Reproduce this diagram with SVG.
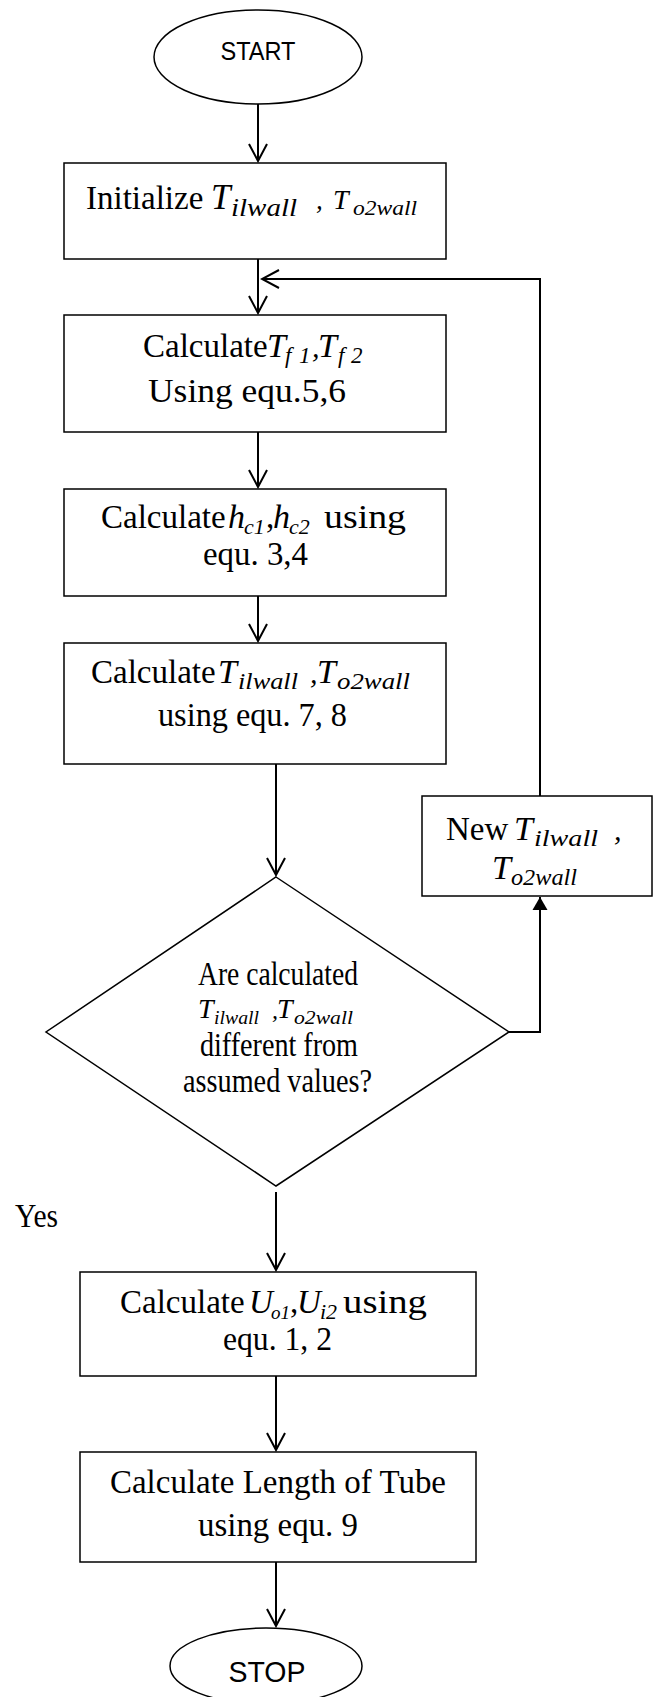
<svg xmlns="http://www.w3.org/2000/svg" width="654" height="1697" viewBox="0 0 654 1697">
<style>
.shape{fill:#fff;stroke:#000;stroke-width:1.5}
.conn{fill:none;stroke:#000;stroke-width:2}
.t{font-family:"Liberation Serif","Times New Roman",serif;font-size:33px;fill:#000}
.i{font-family:"Liberation Serif","Times New Roman",serif;font-style:italic;fill:#000}
.s{font-family:"Liberation Sans",Arial,sans-serif;fill:#000}
</style>
<defs>
<marker id="open" viewBox="-20 -11 22 22" refX="0" refY="0" markerWidth="22" markerHeight="22" markerUnits="userSpaceOnUse" orient="auto">
<path d="M-17,-9 L0,0 L-17,9" fill="none" stroke="#000" stroke-width="2"/>
</marker>
<marker id="solid" viewBox="-15 -9 16 18" refX="0" refY="0" markerWidth="16" markerHeight="18" markerUnits="userSpaceOnUse" orient="auto">
<path d="M-13,-7.5 L0,0 L-13,7.5 Z" fill="#000"/>
</marker>
</defs>
<rect width="654" height="1697" fill="#fff"/>

<g id="connectors">
<line class="conn" x1="258" y1="104" x2="258" y2="161" marker-end="url(#open)"/>
<line class="conn" x1="258" y1="259" x2="258" y2="313" marker-end="url(#open)"/>
<polyline class="conn" points="540,796 540,279 262,279" marker-end="url(#open)"/>
<line class="conn" x1="258" y1="432" x2="258" y2="487" marker-end="url(#open)"/>
<line class="conn" x1="258" y1="596" x2="258" y2="641" marker-end="url(#open)"/>
<line class="conn" x1="276" y1="764" x2="276" y2="875" marker-end="url(#open)"/>
<polyline class="conn" points="509,1032 540,1032 540,897" marker-end="url(#solid)"/>
<line class="conn" x1="276" y1="1192" x2="276" y2="1270" marker-end="url(#open)"/>
<line class="conn" x1="276" y1="1376" x2="276" y2="1450" marker-end="url(#open)"/>
<line class="conn" x1="276" y1="1562" x2="276" y2="1626" marker-end="url(#open)"/>
</g>

<g id="start">
<ellipse class="shape" cx="258" cy="57" rx="104" ry="47"/>
<text class="s" x="258" y="60" font-size="25" text-anchor="middle" textLength="75" lengthAdjust="spacingAndGlyphs">START</text>
</g>

<g id="init">
<rect class="shape" x="64" y="163" width="382" height="96"/>
<text class="t" x="86" y="209" font-size="30">Initialize</text>
<text class="i" x="211" y="209" font-size="35">T</text>
<text class="i" x="231" y="216" font-size="26" textLength="66" lengthAdjust="spacingAndGlyphs">ilwall</text>
<text class="i" x="316" y="209" font-size="27">,</text>
<text class="i" x="333" y="209" font-size="28">T</text>
<text class="i" x="353" y="215" font-size="22" textLength="64" lengthAdjust="spacingAndGlyphs">o2wall</text>
</g>

<g id="calc-tf">
<rect class="shape" x="64" y="315" width="382" height="117"/>
<text class="t" x="143" y="357" font-size="31">Calculate</text>
<text class="i" x="267" y="357" font-size="34">T</text>
<text class="i" x="285" y="363" font-size="23">f</text>
<text class="i" x="299" y="363" font-size="23">1</text>
<text class="i" x="312" y="357" font-size="30">,</text>
<text class="i" x="318" y="357" font-size="34">T</text>
<text class="i" x="338" y="363" font-size="23">f</text>
<text class="i" x="351" y="363" font-size="23">2</text>
<text class="t" x="148" y="402" textLength="198" lengthAdjust="spacingAndGlyphs">Using equ.5,6</text>
</g>

<g id="calc-hc">
<rect class="shape" x="64" y="489" width="382" height="107"/>
<text class="t" x="101" y="528" font-size="31">Calculate</text>
<text class="i" x="228" y="528" font-size="34">h</text>
<text class="i" x="244" y="534" font-size="22">c1</text>
<text class="t" x="266" y="528">,</text>
<text class="i" x="273" y="528" font-size="34">h</text>
<text class="i" x="289" y="534" font-size="22">c2</text>
<text class="t" x="324" y="528" textLength="82" lengthAdjust="spacingAndGlyphs">using</text>
<text class="t" x="203" y="565" textLength="105" lengthAdjust="spacingAndGlyphs">equ. 3,4</text>
</g>

<g id="calc-twall">
<rect class="shape" x="64" y="643" width="382" height="121"/>
<text class="t" x="91" y="683" font-size="31">Calculate</text>
<text class="i" x="218" y="683" font-size="34">T</text>
<text class="i" x="238" y="689" font-size="23" textLength="60" lengthAdjust="spacingAndGlyphs">ilwall</text>
<text class="i" x="310" y="683" font-size="30">,</text>
<text class="i" x="317" y="683" font-size="34">T</text>
<text class="i" x="337" y="689" font-size="23" textLength="73" lengthAdjust="spacingAndGlyphs">o2wall</text>
<text class="t" x="158" y="726" textLength="189" lengthAdjust="spacingAndGlyphs">using equ. 7, 8</text>
</g>

<g id="new-twall">
<rect class="shape" x="422" y="796" width="230" height="100"/>
<text class="t" x="446" y="840" font-size="28">New</text>
<text class="i" x="514" y="840" font-size="34">T</text>
<text class="i" x="534" y="846" font-size="23" textLength="64" lengthAdjust="spacingAndGlyphs">ilwall</text>
<text class="i" x="614" y="840" font-size="30">,</text>
<text class="i" x="492" y="879" font-size="34">T</text>
<text class="i" x="511" y="885" font-size="23" textLength="66" lengthAdjust="spacingAndGlyphs">o2wall</text>
</g>

<g id="decision">
<polygon class="shape" points="276,877 509,1032 276,1186 46,1032"/>
<text class="t" x="198" y="985" font-size="29" textLength="160" lengthAdjust="spacingAndGlyphs">Are calculated</text>
<text class="i" x="198" y="1018" font-size="28">T</text>
<text class="i" x="214" y="1024" font-size="19" textLength="45" lengthAdjust="spacingAndGlyphs">ilwall</text>
<text class="i" x="272" y="1018" font-size="24">,</text>
<text class="i" x="277" y="1018" font-size="28">T</text>
<text class="i" x="294" y="1024" font-size="19" textLength="59" lengthAdjust="spacingAndGlyphs">o2wall</text>
<text class="t" x="200" y="1056" font-size="29" textLength="158" lengthAdjust="spacingAndGlyphs">different from</text>
<text class="t" x="183" y="1092" font-size="29" textLength="189" lengthAdjust="spacingAndGlyphs">assumed values?</text>
</g>

<text id="yes-label" class="t" x="15" y="1227" font-size="27" textLength="43" lengthAdjust="spacingAndGlyphs">Yes</text>

<g id="calc-u">
<rect class="shape" x="80" y="1272" width="396" height="104"/>
<text class="t" x="120" y="1313" font-size="31">Calculate</text>
<text class="i" x="249" y="1313" font-size="33">U</text>
<text class="i" x="271" y="1319" font-size="19">o1</text>
<text class="t" x="290" y="1313">,</text>
<text class="i" x="297" y="1313" font-size="33">U</text>
<text class="i" x="320" y="1319" font-size="22">i2</text>
<text class="t" x="343" y="1313" textLength="84" lengthAdjust="spacingAndGlyphs">using</text>
<text class="t" x="223" y="1350" textLength="109" lengthAdjust="spacingAndGlyphs">equ. 1, 2</text>
</g>

<g id="calc-length">
<rect class="shape" x="80" y="1452" width="396" height="110"/>
<text class="t" x="110" y="1493" textLength="336" lengthAdjust="spacingAndGlyphs">Calculate Length of Tube</text>
<text class="t" x="198" y="1536" textLength="160" lengthAdjust="spacingAndGlyphs">using equ. 9</text>
</g>

<g id="stop">
<ellipse class="shape" cx="266" cy="1666" rx="96" ry="38"/>
<text class="s" x="267" y="1682" font-size="30" text-anchor="middle" textLength="77" lengthAdjust="spacingAndGlyphs">STOP</text>
</g>
</svg>
